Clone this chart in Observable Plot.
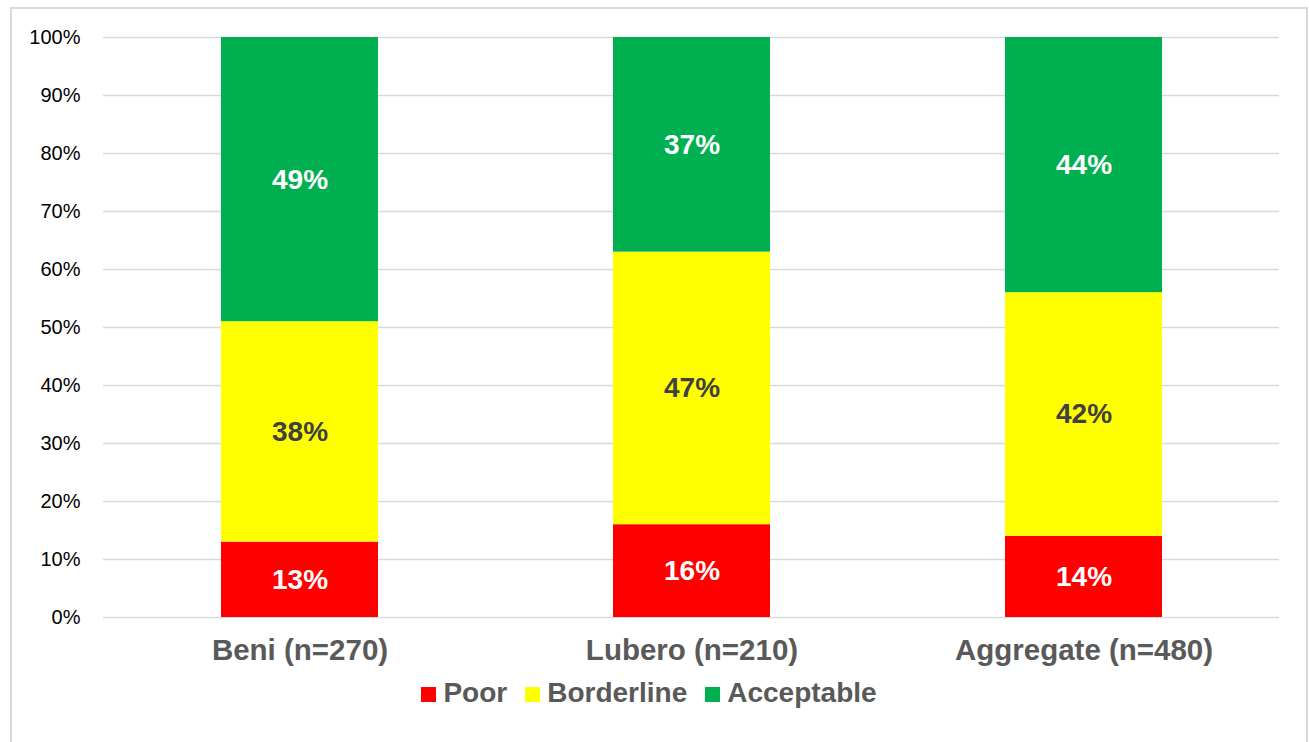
<!DOCTYPE html>
<html>
<head>
<meta charset="utf-8">
<script src="https://cdn.jsdelivr.net/npm/d3@7"></script>
<script src="https://cdn.jsdelivr.net/npm/@observablehq/plot@0.6"></script>
<style>
  html, body { margin: 0; padding: 0; background: #fff; }
  #page { position: relative; width: 1309px; height: 742px; overflow: hidden; }
  #frame { position: absolute; left: 10px; top: 7px; width: 1294px; height: 760px;
           border: 2px solid #d9d9d9; pointer-events: none; z-index: 2; }
  #chart { position: absolute; left: 0; top: 0; }
  #legend { position: absolute; left: 0; top: 679px; width: 1298px; text-align: center;
            font: bold 28px "Liberation Sans", Arial, sans-serif; line-height: 28px; color: #595959; white-space: nowrap; }
  #legend .item { display: inline-block; margin: 0 9px; }
  #legend .sw { display: inline-block; width: 15px; height: 15px; margin-right: 7px; vertical-align: baseline; }
</style>
</head>
<body>
<div id="page">
  <div id="frame"></div>
  <div id="chart"></div>
  <div id="legend"></div>
</div>
<script>
// Food consumption groups by territory (share of households, %)
const sites = ["Beni (n=270)", "Lubero (n=210)", "Aggregate (n=480)"];
const groups = ["Poor", "Borderline", "Acceptable"];
const poor = [13, 16, 14];
const borderline = [38, 47, 42];
const acceptable = [49, 37, 44];
const groupColors = ["#FF0000", "#FFFF00", "#00B050"];
const yTicks = [0, 10, 20, 30, 40, 50, 60, 70, 80, 90, 100];

const seriesValues = [poor, borderline, acceptable];
const rows = [];
groups.forEach((g, gi) => {
  sites.forEach((s, si) => rows.push({site: s, group: g, value: seriesValues[gi][si]}));
});

const stackOpts = {x: "site", y: "value", z: "group", order: groups};

const chart = Plot.plot({
  width: 1309,
  height: 670,
  marginTop: 37,
  marginBottom: 53,
  marginLeft: 103,
  marginRight: 30,
  style: {background: "transparent", fontFamily: "\"Liberation Sans\", Arial, sans-serif", color: "#000"},
  x: {type: "band", domain: sites, paddingInner: 0.6, paddingOuter: 0.3, label: null},
  y: {domain: [0, 100], label: null},
  color: {domain: groups, range: groupColors},
  marks: [
    Plot.gridY({ticks: yTicks, stroke: "#d9d9d9", strokeOpacity: 1, strokeWidth: 1.5}),
    Plot.barY(rows, {...stackOpts, fill: "group"}),
    Plot.text(rows, Plot.stackY({
      ...stackOpts,
      text: d => d.group === "Borderline" ? "" : d.value + "%",
      fill: "#fff", fontSize: 28, fontWeight: "bold"
    })),
    Plot.text(rows, Plot.stackY({
      ...stackOpts,
      text: d => d.group === "Borderline" ? d.value + "%" : "",
      fill: "#404040", fontSize: 28, fontWeight: "bold"
    })),
    Plot.axisY({ticks: yTicks, tickFormat: d => d + "%", tickSize: 0, tickPadding: 23, fontSize: 20, label: null}),
    Plot.axisX({tickSize: 0, tickPadding: 22, fontSize: 29.5, fontWeight: "bold", fill: "#595959", label: null})
  ]
});
document.getElementById("chart").appendChild(chart);

// Legend built from the same group names and colours
const legend = document.getElementById("legend");
groups.forEach((g, i) => {
  const item = document.createElement("span");
  item.className = "item";
  const sw = document.createElement("span");
  sw.className = "sw";
  sw.style.background = groupColors[i];
  item.appendChild(sw);
  item.appendChild(document.createTextNode(g));
  legend.appendChild(item);
});
</script>
</body>
</html>
